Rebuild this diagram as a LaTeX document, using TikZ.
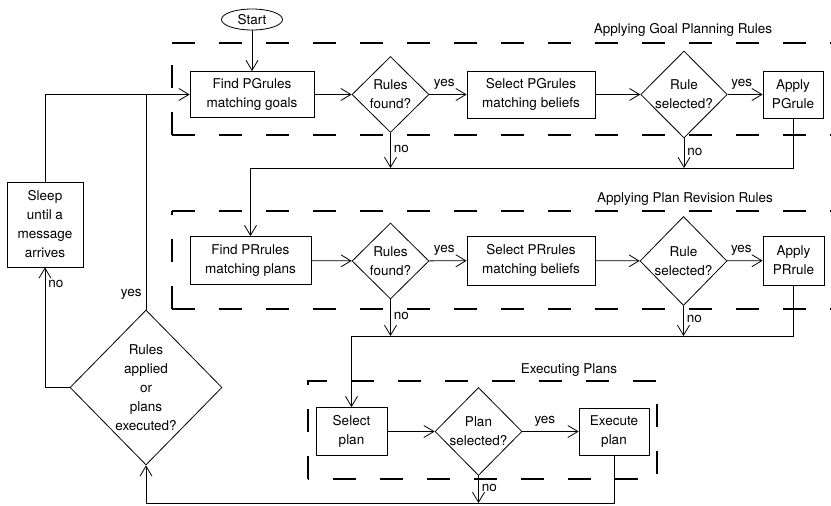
\documentclass[tikz,border=0pt]{standalone}
\usepackage{fontspec}
\setmainfont{TeX Gyre Heros}
\usetikzlibrary{shapes.geometric,arrows.meta}
\begin{document}
\begin{tikzpicture}[x=1pt,y=-1pt,line width=.8pt,font=\fontsize{13.5}{19}\selectfont,
	box/.style={draw,align=center,inner sep=0pt},
	dia/.style={draw,diamond,aspect=1,align=center,inner sep=0pt},
	arr/.style={-{Straight Barb[length=10pt,width=12pt]}},
	frame/.style={line width=1.5pt,dash pattern=on 23pt off 24pt},
	ylab/.style={above=4pt,pos=.4,inner sep=1pt},
	nlab/.style={right,pos=.45,inner sep=3pt}]
	\useasboundingbox (0,0) rectangle (831,506);
	\draw[frame] (172,43)--(831,43) (172,135)--(831,135) (172,135)--(172,43);
	\draw[frame] (172,211)--(831,211) (172,309)--(831,309) (172,309)--(172,211);
	\draw[frame] (308,479)--(308,381)--(657,381)--(657,479)--cycle;
	\node (gpl) at (683,30) {Applying Goal Planning Rules};
	\node (prl) at (685,199) {Applying Plan Revision Rules};
	\node (epl) at (569,370) {Executing Plans};
	\node[draw,ellipse,minimum width=61pt,minimum height=21pt,inner sep=0pt] (start) at (252,19.5) {Start};
	\node[box,minimum width=124pt,minimum height=46pt] (fpg) at (252,94.5) {Find PGrules\\matching goals};
	\node[dia,minimum width=77pt,minimum height=76pt] (rf1) at (390.5,94.5) {Rules\\found?};
	\node[box,minimum width=128pt,minimum height=47pt] (spg) at (531,94.5) {Select PGrules\\matching beliefs};
	\node[dia,minimum width=86pt,minimum height=87pt] (rs1) at (684,94.5) {Rule\\selected?};
	\node[box,minimum width=60pt,minimum height=47pt] (apg) at (793,94.5) {Apply\\PGrule};
	\node[box,minimum width=121pt,minimum height=48pt] (fpr) at (250.5,260.5) {Find PRrules\\matching plans};
	\node[dia,minimum width=77pt,minimum height=76pt] (rf2) at (390.5,261) {Rules\\found?};
	\node[box,minimum width=128pt,minimum height=49pt] (spr) at (531,260.5) {Select PRrules\\matching beliefs};
	\node[dia,minimum width=87pt,minimum height=89pt] (rs2) at (683.5,261) {Rule\\selected?};
	\node[box,minimum width=61pt,minimum height=49pt] (apr) at (793.5,260.5) {Apply\\PRrule};
	\node[box,minimum width=71pt,minimum height=48pt] (sp) at (351.5,431.5) {Select\\plan};
	\node[dia,minimum width=87pt,minimum height=88pt] (ps) at (478.5,431.5) {Plan\\selected?};
	\node[box,minimum width=70pt,minimum height=47pt] (ep) at (614,431.5) {Execute\\plan};
	\node[box,minimum width=76pt,minimum height=85pt] (sleep) at (45,224.5) {Sleep\\until a\\message\\arrives};
	\node[dia,minimum width=152pt,minimum height=155pt] (big) at (146,387.5) {Rules\\applied\\or\\plans\\executed?};
	\path (fpr.north |- 0,168) coordinate (j1) (sp.north |- 0,336) coordinate (j2) (big.south |- 0,503) coordinate (j3);
	\draw[arr] (start)--(fpg);
	\draw[arr] (fpg)--(rf1);
	\draw[arr] (rf1)-- node[ylab]{yes} (spg);
	\draw[arr] (spg)--(rs1);
	\draw[arr] (rs1)-- node[ylab]{yes} (apg);
	\draw[arr] (fpr)--(rf2);
	\draw[arr] (rf2)-- node[ylab]{yes} (spr);
	\draw[arr] (spr)--(rs2);
	\draw[arr] (rs2)-- node[ylab]{yes} (apr);
	\draw[arr] (sp)--(ps);
	\draw[arr] (ps)-- node[ylab]{yes} (ep);
	\foreach \d/\j in {rf1/j1,rs1/j1,rf2/j2,rs2/j2,ps/j3} \draw[arr] (\d.south)-- node[nlab]{no} (\d.south |- \j);
	\draw[arr] (apg.south) |- (j1)--(fpr);
	\draw[arr] (apr.south) |- (j2)--(sp);
	\draw[arr] (ep.south) |- (j3)--(big.south);
	\draw[arr] (big.west) -| node[pos=.93,right,inner sep=3pt]{no} (sleep.south);
	\draw[arr] (sleep.north) |- (fpg.west);
	\draw (big.north)-- node[pos=.07,left,inner sep=4pt]{yes} (big.north |- fpg.west);
\end{tikzpicture}
\end{document}
